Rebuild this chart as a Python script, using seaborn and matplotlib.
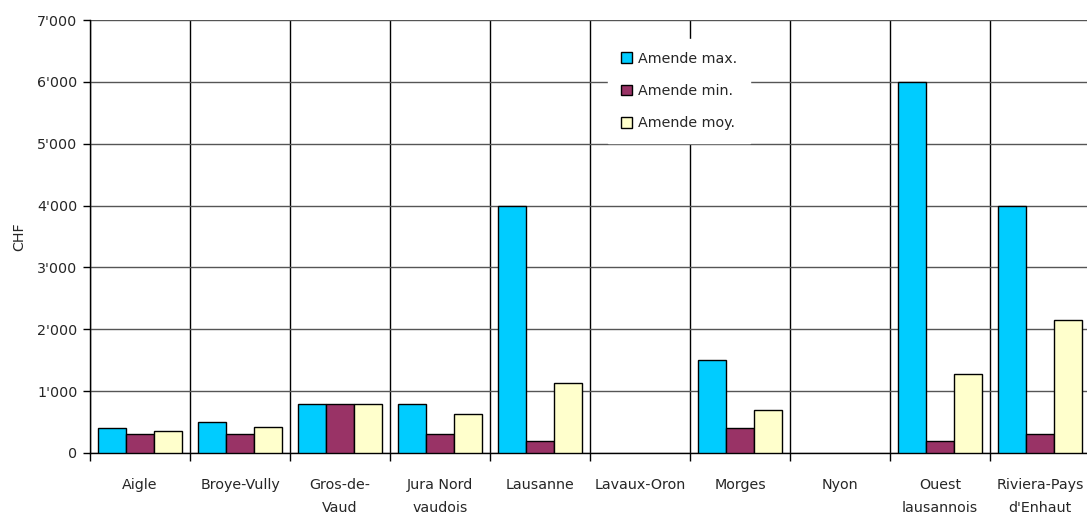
import numpy as np
import pandas as pd
import matplotlib
matplotlib.use("Agg")
import matplotlib.pyplot as plt
import seaborn as sns
from matplotlib.ticker import FuncFormatter, FixedLocator

regions = ["Aigle", "Broye-Vully", "Gros-de-\nVaud", "Jura Nord\nvaudois", "Lausanne",
           "Lavaux-Oron", "Morges", "Nyon", "Ouest\nlausannois", "Riviera-Pays\nd'Enhaut"]
series = ["Amende max.", "Amende min.", "Amende moy."]
amende_max = [400, 500, 800, 800, 4000, np.nan, 1500, np.nan, 6000, 4000]
amende_min = [300, 300, 800, 300, 200, np.nan, 400, np.nan, 200, 300]
amende_moy = [350, 420, 800, 630, 1130, np.nan, 700, np.nan, 1270, 2150]
colors = ["#00CCFF", "#993366", "#FFFFCC"]

df = pd.DataFrame({
    "region": regions * 3,
    "serie": [s for s in series for _ in regions],
    "value": amende_max + amende_min + amende_moy,
})

sns.set_theme(style="white")
plt.rcParams["font.family"] = ["DejaVu Sans"]
FS = 10.3

fig = plt.figure(figsize=(10.87, 5.16), dpi=100)
ax = fig.add_axes([90 / 1087, 63 / 516, 1000 / 1087, 433 / 516])

sns.barplot(data=df, x="region", y="value", hue="serie", order=regions,
            hue_order=series, palette=colors, saturation=1, width=0.84, gap=0,
            edgecolor="black", linewidth=1, errorbar=None, ax=ax, zorder=3)

ax.set_xlim(-0.5, 9.5)
ax.set_ylim(0, 7000)
ax.set_yticks(np.arange(0, 7001, 1000))
ax.yaxis.set_major_formatter(FuncFormatter(
    lambda v, p: "0" if v == 0 else f"{int(v) // 1000}'{int(v) % 1000:03d}"))
ax.tick_params(axis="y", which="major", length=5, width=1, color="black",
               direction="out", labelsize=FS, pad=4, left=True)

ax.xaxis.set_minor_locator(FixedLocator(np.arange(-0.5, 10, 1)))
ax.tick_params(axis="x", which="major", length=0, pad=18, labelsize=FS)
ax.tick_params(axis="x", which="minor", length=6, width=1, color="black",
               direction="out", bottom=True)
for lab in ax.get_xticklabels():
    lab.set_linespacing(1.85)

ax.set_axisbelow(True)
ax.grid(axis="y", which="major", color="#555555", linewidth=1, zorder=0)
ax.grid(axis="x", which="minor", color="black", linewidth=1, zorder=0)
ax.grid(axis="x", which="major", visible=False)

for side in ["left", "bottom"]:
    ax.spines[side].set_visible(True)
    ax.spines[side].set_color("black")
    ax.spines[side].set_linewidth(1)
ax.spines["top"].set_visible(False)
ax.spines["right"].set_visible(False)

ax.set_xlabel("")
ax.set_ylabel("CHF", fontsize=FS, labelpad=8)

handles, labels = ax.get_legend_handles_labels()
leg = ax.legend(handles, labels, loc="upper left", bbox_to_anchor=(0.511, 0.973),
                frameon=True, fancybox=False, framealpha=1, edgecolor="white",
                facecolor="white", fontsize=FS, handlelength=0.75,
                handleheight=0.75, handletextpad=0.45, labelspacing=1.28,
                borderpad=0.9)
leg.set_zorder(5)

fig.savefig("out.png", dpi=100, facecolor="white")
